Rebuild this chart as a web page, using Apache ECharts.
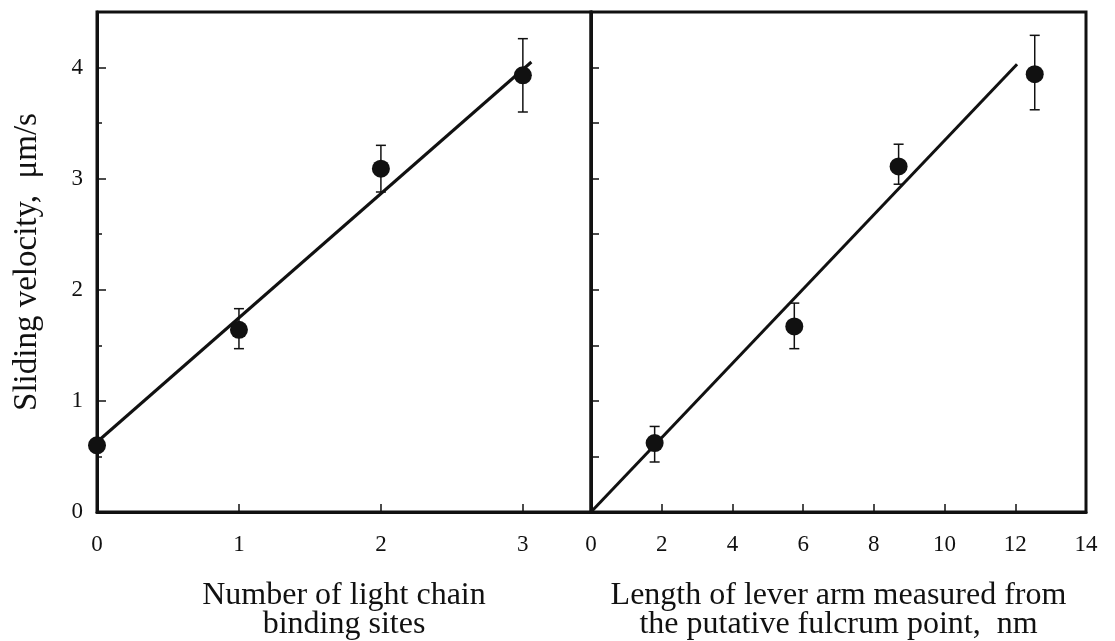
<!DOCTYPE html>
<html>
<head>
<meta charset="utf-8">
<script src="https://cdn.jsdelivr.net/npm/echarts@6/dist/echarts.min.js"></script>
<style>
  html, body { margin: 0; padding: 0; background: #fff; }
  #main { width: 1115px; height: 641px; }
</style>
</head>
<body>
<div id="main"></div>
<script>
// left panel: velocity vs number of light chain binding sites
var sitesX = [0, 1, 2, 3];
var sitesY = [0.6, 1.64, 3.09, 3.93];
var sitesLo = [0.55, 1.47, 2.88, 3.6];
var sitesHi = [0.65, 1.83, 3.3, 4.26];
var sitesFit = [[0, 0.63], [3.06, 4.05]];

// right panel: velocity vs lever arm length (nm)
var leverX = [1.8, 5.75, 8.7, 12.55];
var leverY = [0.62, 1.67, 3.11, 3.94];
var leverLo = [0.45, 1.47, 2.95, 3.62];
var leverHi = [0.77, 1.88, 3.31, 4.29];
var leverFit = [[0, 0], [12.05, 4.03]];

var leftTicks = [0, 1, 2, 3];
var rightTicks = [0, 2, 4, 6, 8, 10, 12, 14];
var yTicks = [0, 1, 2, 3, 4];

var serif = '"Liberation Serif", "DejaVu Serif", serif';
var ink = '#111';

var myChart = echarts.init(document.getElementById('main'));

function pts(xs, ys) {
  return xs.map(function (x, i) { return [x, ys[i]]; });
}
function bars(xs, lo, hi) {
  return xs.map(function (x, i) { return [x, lo[i], hi[i]]; });
}

// error bar with small caps, placed through the axis scales
function errorBar(params, api) {
  var lo = api.coord([api.value(0), api.value(1)]);
  var hi = api.coord([api.value(0), api.value(2)]);
  var w = 5;
  var st = { stroke: ink, lineWidth: 1.5 };
  return {
    type: 'group',
    children: [
      { type: 'line', shape: { x1: lo[0], y1: lo[1], x2: hi[0], y2: hi[1] }, style: st },
      { type: 'line', shape: { x1: lo[0] - w, y1: lo[1], x2: lo[0] + w, y2: lo[1] }, style: st },
      { type: 'line', shape: { x1: hi[0] - w, y1: hi[1], x2: hi[0] + w, y2: hi[1] }, style: st }
    ]
  };
}

function onlyTicks(list) {
  return function (v) {
    for (var i = 0; i < list.length; i++) {
      if (Math.abs(v - list[i]) < 1e-6) return String(list[i]);
    }
    return '';
  };
}

var labelStyle = { color: ink, fontFamily: serif, fontSize: 23 };
var titleStyle = { color: ink, fontFamily: serif, fontSize: 32, lineHeight: 29 };

var option = {
  backgroundColor: '#fff',
  animation: false,
  grid: [
    { left: 97, top: 12, width: 494, height: 500, outerBoundsMode: 'none', containLabel: false,
      show: true, borderColor: ink, borderWidth: 3 },
    { left: 591, top: 12, width: 495, height: 500, outerBoundsMode: 'none', containLabel: false,
      show: true, borderColor: ink, borderWidth: 3 }
  ],
  xAxis: [
    {
      gridIndex: 0, type: 'value', min: 0, max: 3.48, interval: 1,
      name: 'Number of light chain\nbinding sites',
      nameLocation: 'middle', nameGap: 69,
      nameTextStyle: titleStyle,
      axisLine: { show: true, lineStyle: { color: ink, width: 3 } },
      axisTick: { inside: true, length: 8, lineStyle: { color: ink, width: 1.5 } },
      axisLabel: Object.assign({ margin: 21, formatter: onlyTicks(leftTicks) }, labelStyle),
      splitLine: { show: false }
    },
    {
      gridIndex: 1, type: 'value', min: 0, max: 14, interval: 2,
      name: 'Length of lever arm measured from\nthe putative fulcrum point,  nm',
      nameLocation: 'middle', nameGap: 69,
      nameTextStyle: titleStyle,
      axisLine: { show: true, lineStyle: { color: ink, width: 3 } },
      axisTick: { inside: true, length: 8, lineStyle: { color: ink, width: 1.5 } },
      axisLabel: Object.assign({ margin: 21, formatter: onlyTicks(rightTicks) }, labelStyle),
      splitLine: { show: false }
    }
  ],
  yAxis: [
    {
      gridIndex: 0, type: 'value', min: 0, max: 4.5, interval: 1,
      name: 'Sliding velocity,  μm/s',
      nameLocation: 'middle', nameGap: 53,
      nameTextStyle: { color: ink, fontFamily: serif, fontSize: 33 },
      axisLine: { show: true, lineStyle: { color: ink, width: 3 } },
      axisTick: { inside: true, length: 9, lineStyle: { color: ink, width: 1.5 } },
      minorTick: { show: true, splitNumber: 2, length: 5, lineStyle: { color: ink, width: 1.5 } },
      axisLabel: Object.assign({ margin: 14, formatter: onlyTicks(yTicks) }, labelStyle),
      splitLine: { show: false }
    },
    {
      gridIndex: 1, type: 'value', min: 0, max: 4.5, interval: 0.5,
      axisLine: { show: true, lineStyle: { color: ink, width: 3 } },
      axisTick: { inside: true, length: 8, lineStyle: { color: ink, width: 1.5 } },
      axisLabel: { show: false },
      splitLine: { show: false }
    }
  ],
  series: [
    {
      type: 'line', xAxisIndex: 0, yAxisIndex: 0, data: sitesFit,
      showSymbol: false, lineStyle: { color: ink, width: 3 }, z: 3
    },
    {
      type: 'custom', xAxisIndex: 0, yAxisIndex: 0,
      data: bars(sitesX, sitesLo, sitesHi), renderItem: errorBar, clip: false, z: 4
    },
    {
      type: 'scatter', xAxisIndex: 0, yAxisIndex: 0, data: pts(sitesX, sitesY),
      symbolSize: 18, itemStyle: { color: ink, opacity: 1 }, clip: false, z: 5
    },
    {
      type: 'line', xAxisIndex: 1, yAxisIndex: 1, data: leverFit,
      showSymbol: false, lineStyle: { color: ink, width: 3 }, z: 3
    },
    {
      type: 'custom', xAxisIndex: 1, yAxisIndex: 1,
      data: bars(leverX, leverLo, leverHi), renderItem: errorBar, clip: false, z: 4
    },
    {
      type: 'scatter', xAxisIndex: 1, yAxisIndex: 1, data: pts(leverX, leverY),
      symbolSize: 18, itemStyle: { color: ink, opacity: 1 }, clip: false, z: 5
    }
  ]
};

myChart.setOption(option);
</script>
</body>
</html>
